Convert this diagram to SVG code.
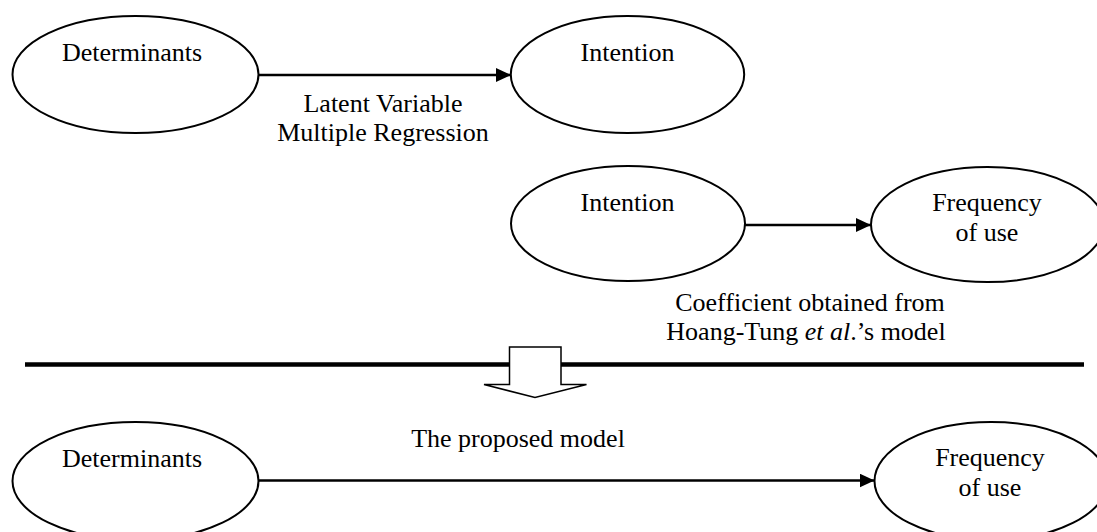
<svg xmlns="http://www.w3.org/2000/svg" width="1097" height="532" viewBox="0 0 1097 532">
  <style>
    .node { fill: #ffffff; stroke: #000000; stroke-width: 2; }
    .lbl { font-family: "Liberation Serif", "Times New Roman", serif; font-size: 26px; fill: #000000; text-anchor: middle; }
    .edge { stroke: #000000; stroke-width: 2.5; fill: none; }
    .rule { stroke: #000000; stroke-width: 4.5; }
  </style>
  <defs>
    <marker id="head" markerWidth="16" markerHeight="14" refX="15" refY="7" orient="auto" markerUnits="userSpaceOnUse">
      <path d="M0,0 L15,7 L0,14 Z" fill="#000000"/>
    </marker>
  </defs>

  <rect width="1097" height="532" fill="#ffffff"/>

  <!-- connectors -->
  <g id="connectors">
    <line class="edge" x1="259" y1="75" x2="511" y2="75" marker-end="url(#head)"/>
    <line class="edge" x1="745" y1="225" x2="871" y2="225" marker-end="url(#head)"/>
    <line class="edge" x1="259" y1="480.5" x2="874.5" y2="480.5" marker-end="url(#head)"/>
    <text class="lbl" x="383" y="112">Latent Variable</text>
    <text class="lbl" x="383" y="141">Multiple Regression</text>
    <text class="lbl" x="810" y="311">Coefficient obtained from</text>
    <text class="lbl" x="806" y="340">Hoang-Tung <tspan font-style="italic">et al</tspan>.’s model</text>
    <text class="lbl" x="518" y="447">The proposed model</text>
  </g>

  <!-- divider with downward block arrow -->
  <g id="divider">
    <line class="rule" x1="25" y1="364.5" x2="1084" y2="364.5"/>
    <path d="M509.5,364.5 L509.5,347 L561,347 L561,384.5 L586.5,384.5 L535,397.5 L484,384.5 L509.5,384.5 Z" fill="#ffffff" stroke="#000000" stroke-width="1.5"/>
  </g>

  <g id="determinants-top">
    <ellipse class="node" cx="135.5" cy="74.5" rx="123" ry="58.5"/>
    <text class="lbl" x="132" y="61">Determinants</text>
  </g>

  <g id="intention-top">
    <ellipse class="node" cx="627.5" cy="74.5" rx="116.7" ry="58.5"/>
    <text class="lbl" x="627.5" y="61">Intention</text>
  </g>

  <g id="intention-mid">
    <ellipse class="node" cx="628" cy="223.5" rx="117" ry="57.5"/>
    <text class="lbl" x="627.5" y="211">Intention</text>
  </g>

  <g id="frequency-mid">
    <ellipse class="node" cx="987.5" cy="224.5" rx="116.5" ry="57.5"/>
    <text class="lbl" x="987" y="211">Frequency</text>
    <text class="lbl" x="987" y="241">of use</text>
  </g>

  <g id="determinants-bottom">
    <ellipse class="node" cx="135.5" cy="481" rx="123" ry="59"/>
    <text class="lbl" x="132" y="466.5">Determinants</text>
  </g>

  <g id="frequency-bottom">
    <ellipse class="node" cx="991" cy="481" rx="116.5" ry="59"/>
    <text class="lbl" x="990" y="466">Frequency</text>
    <text class="lbl" x="990" y="496">of use</text>
  </g>
</svg>
